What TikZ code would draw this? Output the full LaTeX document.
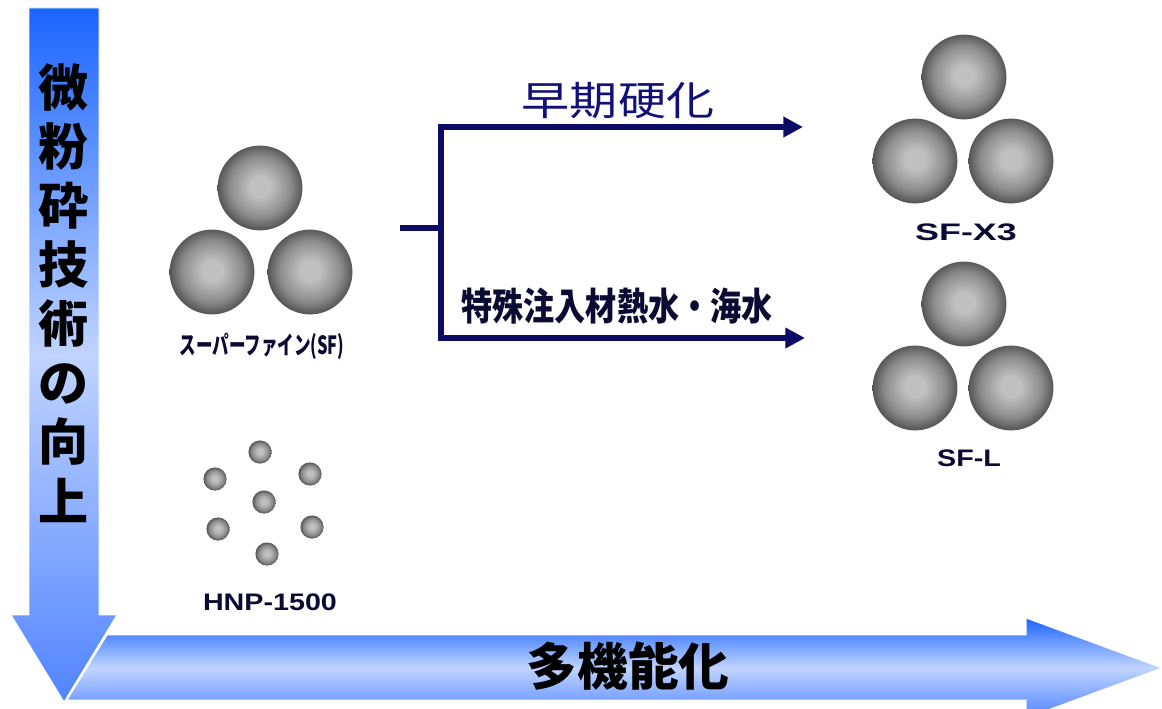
\documentclass[tikz,border=0pt]{standalone}
\usepackage{fontspec}
\usepackage{tikz}
\usetikzlibrary{arrows.meta}
\newfontfamily\jpfont{Noto Sans CJK JP}
\newfontfamily\lafont{Liberation Sans}
\definecolor{navy}{RGB}{12,12,100}
\definecolor{labelblue}{RGB}{16,16,120}
\definecolor{labelink}{RGB}{10,10,50}
\definecolor{deepblue}{RGB}{26,100,255}
\definecolor{paleblue}{RGB}{192,212,255}
\definecolor{midblue}{RGB}{80,132,255}
\definecolor{sphlight}{RGB}{192,192,192}
\definecolor{sphmid}{RGB}{140,140,140}
\definecolor{sphdark}{RGB}{86,86,86}
\pgfdeclareradialshading{sphere}{\pgfpoint{0bp}{1bp}}{color(0bp)=(sphlight); color(6bp)=(sphlight); color(18bp)=(sphmid); color(25bp)=(sphdark); color(50bp)=(sphdark)}

\begin{document}
\begin{tikzpicture}[x=0.025cm,y=-0.025cm,>={Triangle[length=14pt,width=14pt]},
  big ball/.style={circle,inner sep=0pt,minimum size=2.12cm,shading=sphere},
  small ball/.style={circle,inner sep=0pt,minimum size=0.58cm,shading=sphere},
  flow/.style={draw=navy,line width=4.3pt},
  big arrow/.style={draw=white,line width=0.7pt,top color=deepblue,bottom color=midblue,middle color=paleblue},
  name label/.style={font=\lafont\bfseries\fontsize{17}{20}\selectfont,text=labelink,inner sep=0pt}]
  \useasboundingbox (0,0) rectangle (1162,709);

  \draw[big arrow] (107,635) -- (1026,635) -- (1026,618) -- (1162,668) -- (1026,718)
    -- (1026,700) -- (67,700) -- cycle;
  \draw[big arrow] (29,8) -- (99,8) -- (99,615) -- (117,615) -- (64,702) -- (11,615)
    -- (29,615) -- cycle;
  \node[font=\jpfont\bfseries\fontsize{35.6}{42}\selectfont,align=center,inner sep=0pt] (down) at (64,293)
    {微\\粉\\砕\\技\\術\\の\\向\\上};
  \node[font=\jpfont\bfseries\fontsize{36}{40}\selectfont,inner sep=0pt] (across) at (628,666) {多機能化};

  \node[big ball] (sf1) at (260,188) {};
  \node[big ball] (sf2) at (212,272) {};
  \node[big ball] (sf3) at (310,272) {};
  \node[font=\jpfont\bfseries\fontsize{17.8}{20}\selectfont,text=labelink,xscale=0.66,inner sep=0pt] (sf) at (262,346) {スーパーファイン(SF)};

  \node[small ball] (h1) at (260,452) {};
  \node[small ball] (h2) at (310,474) {};
  \node[small ball] (h3) at (215,479) {};
  \node[small ball] (h4) at (264,502) {};
  \node[small ball] (h5) at (218,529) {};
  \node[small ball] (h6) at (312,527) {};
  \node[small ball] (h7) at (267,554) {};
  \node[name label,xscale=1.2] (hnp) at (270,602) {HNP-1500};

  \node[big ball] (x1) at (964,77) {};
  \node[big ball] (x2) at (915,161) {};
  \node[big ball] (x3) at (1011,161) {};
  \node[name label,xscale=1.5] (sfx3) at (966,232) {SF-X3};

  \node[big ball] (l1) at (964,304) {};
  \node[big ball] (l2) at (915,388) {};
  \node[big ball] (l3) at (1011,388) {};
  \node[name label,xscale=1.2] (sfl) at (969,458) {SF-L};

  \coordinate (stem) at (400,228);
  \coordinate (fork) at (441,228);
  \coordinate (early) at (803,127);
  \coordinate (special) at (805,338);
  \draw[flow] (stem) -- (fork);
  \draw[flow,->] (fork) |- (early);
  \draw[flow,->] (fork) |- (special);

  \node[font=\jpfont\fontsize{28.5}{32}\selectfont,text=labelblue,xscale=1.2,inner sep=0pt] (hard) at (618,101) {早期硬化};
  \node[font=\jpfont\bfseries\fontsize{27}{30}\selectfont,text=labelink,xscale=0.82,inner sep=0pt] (grout) at (617,306) {特殊注入材熱水・海水};
\end{tikzpicture}
\end{document}
